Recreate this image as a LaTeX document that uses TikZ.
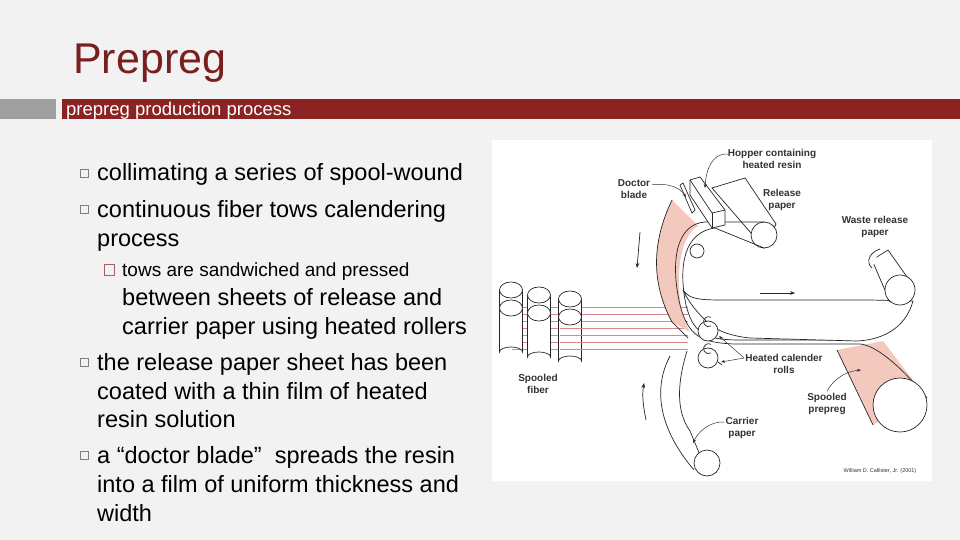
\documentclass[tikz,border=0pt]{standalone}
\usepackage{fontspec}
\setmainfont{Liberation Sans}
\usetikzlibrary{arrows.meta}
\definecolor{bg}{HTML}{F2F2F2}
\definecolor{dred}{HTML}{8B2323}
\definecolor{tred}{HTML}{7A1F1F}
\definecolor{pinkf}{HTML}{F3C9BE}
\definecolor{fibr}{HTML}{D9848F}
\definecolor{lab}{HTML}{333333}
\tikzset{
 body/.style={anchor=base west,font=\fontsize{23.5}{23.5}\selectfont,text=black,inner sep=0},
 sbody/.style={anchor=base west,font=\fontsize{19}{19}\selectfont,text=black,inner sep=0},
 bul/.style={draw=gray,line width=0.8pt,fill=none},
 lbl/.style={font=\fontsize{10}{11.5}\selectfont\bfseries,text=lab,align=center,inner sep=0},
 ln/.style={draw=black!85,line width=0.7pt},
 lead/.style={draw=black!80,line width=0.5pt,-{Stealth[length=4pt]}},
}
\begin{document}
\begin{tikzpicture}[x=1pt,y=-1pt]
\useasboundingbox (0,0) rectangle (960,540);
\fill[bg] (0,0) rectangle (960,540);
\node[anchor=base west,font=\fontsize{43}{43}\selectfont,text=tred,inner sep=0] (title) at (73,74) {Prepreg};
\fill[gray!75] (0,99) rectangle (56,119);
\fill[dred] (62,99) rectangle (960,119);
\node[anchor=base west,font=\fontsize{18.5}{18.5}\selectfont,text=white,inner sep=0] (sub) at (66,116) {prepreg production process};
% bullets
\foreach \y in {173,209,362,455} \draw[bul] (80,\y-4) rectangle (88,\y+4);
\draw[draw=tred!70,line width=0.6pt] (104,264) rectangle (114,275);
\node[body] (t1) at (97,181) {collimating a series of spool-wound};
\node[body] (t2) at (97,217) {continuous fiber tows calendering};
\node[body] (t3) at (97,246) {process};
\node[sbody] (t4) at (122,276) {tows are sandwiched and pressed};
\node[body] (t5) at (122,305) {between sheets of release and};
\node[body] (t6) at (122,334) {carrier paper using heated rollers};
\node[body] (t7) at (97,370) {the release paper sheet has been};
\node[body] (t8) at (97,399) {coated with a thin film of heated};
\node[body] (t9) at (97,427) {resin solution};
\node[body] (t10) at (97,463) {a “doctor blade”\ \ spreads the resin};
\node[body] (t11) at (97,492) {into a film of uniform thickness and};
\node[body] (t12) at (97,521) {width};
% figure
\fill[white] (492,140) rectangle (932,481);
% fibres
\foreach \y in {307,314,321,328,335,342,349} \draw[fibr,line width=0.7pt] (512,\y) -- (688,\y);
% spools
\foreach \x/\t in {511/290,539/295,570/299}{
  \draw[ln,fill=white] (\x-11.5,\t) -- (\x-11.5,\t+62) arc[start angle=180,end angle=360,x radius=11.5,y radius=5] -- (\x+11.5,\t) -- cycle;
  \draw[ln,fill=white] (\x,\t) ellipse[x radius=11.5,y radius=8];
  \draw[ln,fill=white] (\x,\t+18) ellipse[x radius=11.5,y radius=8];
}
\foreach \y in {328,335,342,349} \draw[fibr,line width=0.7pt] (560,\y) -- (600,\y);
% pink resin film
\fill[pinkf] (672,200) -- (698,226) .. controls (683,235) and (676,262) .. (680,300) .. controls (682,315) and (686,325) .. (690,332) -- (672,322) .. controls (655,290) and (648,250) .. (672,200) -- cycle;
\draw[ln] (672,200) .. controls (648,250) and (655,290) .. (672,322) -- (688,338);
% release paper roll
\draw[ln,fill=white] (712,188) -- (745,178) -- (776,224) -- (764,248) -- cycle;
\draw[ln,fill=white] (764,235) circle[radius=13];
% main web
\draw[ln] (764,222) -- (705,222) .. controls (676,224) and (670,262) .. (680,305) .. controls (688,335) and (700,343) .. (735,344) -- (860,344);
\draw[ln] (764,248) -- (715,228) .. controls (684,232) and (678,266) .. (686,305) .. controls (693,333) and (705,339) .. (735,340) -- (860,340);
% small roller
\draw[ln,fill=white] (697,251) circle[radius=7];
% waste release paper
\draw[ln,fill=white] (683,290) .. controls (690,300) and (700,300) .. (730,300) -- (870,300) -- (913,301) .. controls (905,330) and (880,340) .. (857,341) -- (750,338) .. controls (730,336) and (715,330) .. (707,322) .. controls (700,315) and (690,305) .. (683,290);
\draw[ln,fill=white] (872,260) -- (888,250) -- (912,284) -- (890,302) -- cycle;
\draw[ln,fill=white] (900,290) circle[radius=15];
\draw[ln,fill=white] (880,249) .. controls (870,252) and (865,262) .. (872,268);
% hopper
\draw[ln,fill=white] (690,180) -- (700,177) -- (725,210) -- (725,225) -- (712,228) -- (690,195) -- cycle;
\draw[ln] (712,213) -- (725,210); \draw[ln] (712,213) -- (712,228); \draw[ln] (690,180) -- (712,213);
% doctor blade
\draw[ln,fill=white] (680,185) -- (683,183) -- (695,210) -- (692,213) -- cycle;
% calender rolls
\draw[ln,fill=white] (708,331) circle[radius=10];
\draw[ln,fill=white] (708,358) circle[radius=10];
\draw[ln] (711,326) arc[start angle=60,end angle=300,radius=5];
\draw[ln] (711,353) arc[start angle=60,end angle=300,radius=5];
% carrier paper
\draw[ln] (687,351) .. controls (678,380) and (675,410) .. (690,431) -- (700,455);
\draw[ln] (670,356) .. controls (652,390) and (660,430) .. (694,470);
\draw[ln] (718,362) -- (722,365);
\draw[ln,fill=white] (707,463) circle[radius=13];
% prepreg roll
\fill[pinkf] (837,350) -- (883,341) -- (925,396) -- (873,425) -- cycle;
\draw[ln] (860,344) .. controls (875,345) and (900,365) .. (927,398);
\draw[ln] (837,350) -- (873,425);
\draw[ln,fill=white] (900,405) circle[radius=27];
% motion arrows
\draw[ln,-{Stealth[length=5pt]}] (640,232) -- (637,268);
\draw[ln,-{Stealth[length=5pt]}] (646,420) .. controls (643,405) and (642,395) .. (644,383);
\draw[ln,-{Stealth[length=5pt]}] (760,293) -- (795,293);
% labels
\node[lbl] (lhop) at (772,159) {Hopper containing\\heated resin};
\node[lbl] (ldoc) at (634,189) {Doctor\\blade};
\node[lbl] (lrel) at (782,200) {Release\\paper};
\node[lbl] (lwas) at (875,227) {Waste release\\paper};
\node[lbl] (lfib) at (538,384) {Spooled\\fiber};
\node[lbl] (lcal) at (784,364) {Heated calender\\rolls};
\node[lbl] (lpre) at (827,404) {Spooled\\prepreg};
\node[lbl] (lcar) at (742,428) {Carrier\\paper};
\node[font=\fontsize{5.5}{6}\selectfont,text=lab,inner sep=0] (lcred) at (880,471) {William D. Callister, Jr. (2001)};
\coordinate (phop) at (705,188);
\coordinate (pdoc) at (686,197);
\coordinate (pcal1) at (719,336);
\coordinate (pcal2) at (721,362);
\coordinate (ppre) at (861,370);
\coordinate (pcar) at (693,443);
\draw[lead] (lhop.west) ++(0,-5) .. controls (712,153) and (706,170) .. (phop);
\draw[lead] (ldoc.north east) ++(2,5) .. controls (670,183) and (680,188) .. (pdoc);
\draw[lead] (lcal.west) ++(-1,-6) -- (pcal1);
\draw[lead] (lcal.west) ++(-1,-6) -- (pcal2);
\draw[lead] (lpre.north) ++(0,-2) .. controls (830,385) and (840,372) .. (ppre);
\draw[lead] (lcar.west) ++(-1,-6) .. controls (710,421) and (698,432) .. (pcar);
\end{tikzpicture}
\end{document}
